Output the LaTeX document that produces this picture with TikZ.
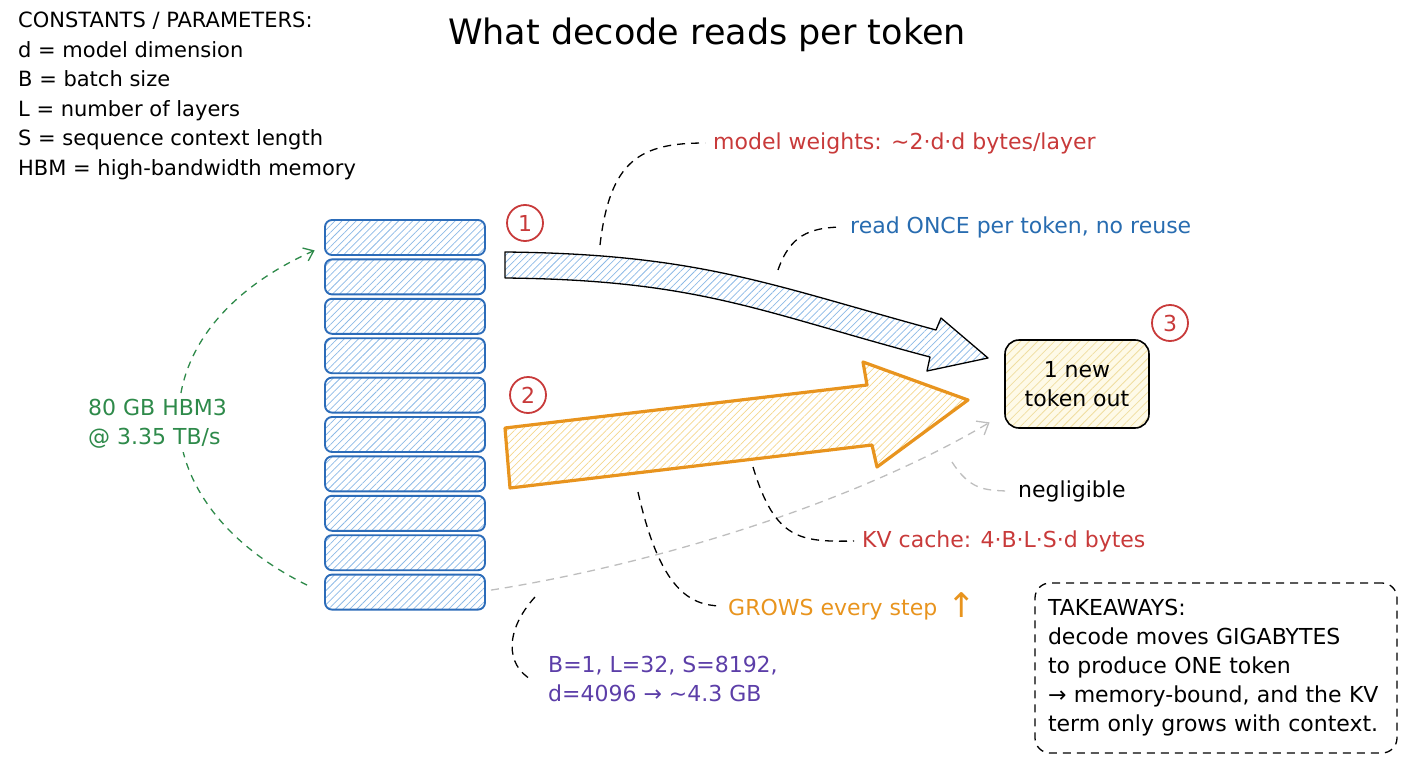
\documentclass[tikz,border=0pt]{standalone}
\usepackage{fontspec}
\setmainfont{DejaVu Sans}
\usetikzlibrary{patterns.meta,arrows.meta,calc}
\definecolor{stackblue}{RGB}{44,108,185}
\definecolor{hatchblue}{RGB}{140,185,230}
\definecolor{arrorange}{RGB}{232,148,30}
\definecolor{hatchyel}{RGB}{244,214,140}
\definecolor{boxhatch}{RGB}{240,222,160}
\definecolor{numred}{RGB}{200,58,58}
\definecolor{txtblue}{RGB}{40,108,176}
\definecolor{txtgreen}{RGB}{46,138,74}
\definecolor{txtpurple}{RGB}{92,62,168}
\definecolor{lgray}{RGB}{190,190,190}
\definecolor{boxyel}{RGB}{254,250,232}
\newcommand\fslab{\fontsize{22}{29}\selectfont}
\newcommand\fsconst{\fontsize{21}{29.5}\selectfont}
\begin{document}
\begin{tikzpicture}[x=1pt,y=-1pt,
  layer/.style={draw=stackblue, line width=1.9pt, rounded corners=7pt, minimum width=160pt, minimum height=35pt, inner sep=0pt,
    pattern={Lines[angle=45,distance=5pt,line width=0.75pt]}, pattern color=hatchblue},
  numc/.style={circle, draw=numred, line width=1.8pt, minimum size=36pt, inner sep=0pt, text=numred, font=\fontsize{22}{22}\selectfont},
  lab/.style={anchor=west, inner sep=0pt, font=\fslab},
  leader/.style={black, line width=1.3pt, dash pattern=on 8pt off 6pt},
  gleader/.style={lgray, line width=1.3pt, dash pattern=on 8pt off 6pt},
]
\useasboundingbox (0,0) rectangle (1408,768);

% title
\node[inner sep=0pt, font=\fontsize{35}{35}\selectfont] (title) at (707,35) {What decode reads per token};

% constants
\node[anchor=north west, inner sep=0pt, align=left, font=\fsconst] (consts) at (18,12) {CONSTANTS / PARAMETERS:\\d = model dimension\\B = batch size\\L = number of layers\\S = sequence context length\\HBM = high-bandwidth memory};

% stack
\foreach \i in {1,...,10}
  \node[layer] (L\i) at (405,{237.5+(\i-1)*39.4}) {};

% green HBM arc
\draw[txtgreen, line width=1.3pt, dash pattern=on 7pt off 6pt, -{Straight Barb[length=9pt,width=14pt,line width=1.3pt]}]
  ($(L10.west)+(-17,-7)$) .. controls (135,500) and (135,330) .. ($(L1.south west)+(-10,-5)$);
\node[anchor=west, inner sep=3pt, fill=white, align=left, text=txtgreen, font=\fslab] (hbm) at (85,424) {80 GB HBM3\\@ 3.35 TB/s};

% arrow 1 (weights)
\draw[black, line width=1.3pt, line join=round, pattern={Lines[angle=45,distance=5pt,line width=0.75pt]}, pattern color=hatchblue]
  (505,252) .. controls (700,254) and (770,285) .. (936,330) -- (941,318) -- (988,358) -- (927,371) -- (930,357)
  .. controls (760,312) and (700,280) .. (505,278) -- cycle;

% arrow 2 (KV)
\draw[arrorange, line width=3.2pt, line join=round, pattern={Lines[angle=45,distance=5pt,line width=0.7pt]}, pattern color=hatchyel]
  (505,428) -- (867,385) -- (863,362) -- (968,400) -- (877,467) -- (872,445) -- (510,488) -- cycle;

% number circles
\node[numc] (c1) at (525,223) {1};
\node[numc] (c2) at (528,395) {2};
\node[numc] (c3) at (1170,323) {3};

% output box
\node[draw=black, line width=1.6pt, rounded corners=14pt, minimum width=144pt, minimum height=88pt, align=center,
  preaction={fill=boxyel}, pattern={Lines[angle=45,distance=6pt,line width=0.8pt]}, pattern color=boxhatch, font=\fslab] (out) at (1077,384) {1 new\\token out};

% gray negligible arrow
\draw[gleader, -{Straight Barb[length=10pt,width=16pt,line width=1.3pt]}]
  ($(L10.east)+(5,-2)$) .. controls (650,565) and (850,505) .. ($(out.south west)+(-15,-6)$);

% labels
\node[lab, text=numred] (mw) at (713,143) {model weights: \textasciitilde2·d·d bytes/layer};
\node[lab, text=txtblue] (rd) at (850,227) {read ONCE per token, no reuse};
\node[lab, text=black] (neg) at (1018,491) {negligible};
\node[lab, text=numred] (kv) at (862,541) {KV cache: 4·B·L·S·d bytes};
\node[lab, text=arrorange] (gr) at (728,606) {GROWS every step\hspace{10pt}\raisebox{-2pt}{\fontsize{34}{34}\selectfont↑}};
\node[lab, text=txtpurple, align=left] (pu) at (548,679) {B=1, L=32, S=8192,\\d=4096 → \textasciitilde4.3 GB};

% leaders
\coordinate (mws) at (600,245);
\draw[leader] (mws) .. controls (610,160) and (640,143) .. ($(mw.west)+(-8,0)$);
\coordinate (rds) at (778,270);
\draw[leader] (rds) .. controls (790,235) and (810,228) .. ($(rd.west)+(-10,0)$);
\coordinate (kvs) at (753,467);
\draw[leader] (kvs) .. controls (775,540) and (800,542) .. ($(kv.west)+(-8,0)$);
\coordinate (grs) at (638,492);
\draw[leader] (grs) .. controls (660,590) and (690,605) .. ($(gr.west)+(-8,0)$);
\coordinate (pus) at (535,597);
\draw[leader] (pus) .. controls (505,630) and (505,665) .. (532,680);
\coordinate (negs) at (952,462);
\draw[gleader] (negs) .. controls (970,490) and (985,490) .. ($(neg.west)+(-12,0)$);

% takeaways
\node[draw=black, line width=1.3pt, dash pattern=on 8pt off 6pt, rounded corners=15pt, minimum width=362pt, minimum height=170pt,
  text width=336pt, align=left, inner sep=13pt, font=\fslab] (take) at (1216,668)
  {TAKEAWAYS:\\decode moves GIGABYTES\\to produce ONE token\\→ memory-bound, and the KV\\term only grows with context.};
\end{tikzpicture}
\end{document}
